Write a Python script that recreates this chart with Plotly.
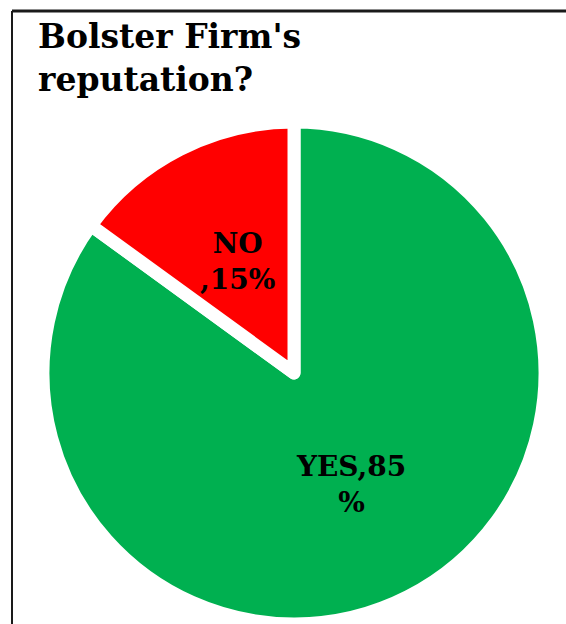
import math
import plotly.graph_objects as go

# ---- data ----
labels = ["YES", "NO"]
values = [85, 15]
slice_text = ["YES,85<br>%", "NO<br>,15%"]
colors = ["#00B050", "#FF0000"]
title_text = "Bolster Firm's<br>reputation?"

W, H = 566, 624
dom_x = [0.0751, 0.9638]
dom_y = [0.0, 0.8045]
FONT = "DejaVu Serif"
GAP = 13

fig = go.Figure(go.Pie(
    labels=labels, values=values, sort=False, direction="clockwise", rotation=0,
    marker=dict(colors=colors, line=dict(width=GAP, color="white")),
    textinfo="none", hoverinfo="label+percent",
    domain=dict(x=dom_x, y=dom_y), showlegend=False,
))

# pie geometry as plotly computes it (used to place the slice labels)
box_w = W * (dom_x[1] - dom_x[0])
box_h = H * (dom_y[1] - dom_y[0])
r = min(box_w, box_h) / 2
cx = W * (dom_x[0] + dom_x[1]) / 2
cy = H * (1 - dom_y[0]) - box_h / 2

total = sum(values)
cum = 0
label_frac = 0.5
for v, txt in zip(values, slice_text):
    mid = 2 * math.pi * (cum + v / 2) / total
    cum += v
    dx, dy = math.sin(mid), -math.cos(mid)
    px = cx + label_frac * r * dx
    py = cy + label_frac * r * dy
    fig.add_annotation(
        x=px / W, y=1 - py / H, xref="paper", yref="paper",
        text="<b>" + txt + "</b>", showarrow=False, align="center",
        xanchor="center", yanchor="middle",
        font=dict(family=FONT, size=28, color="#000000"),
    )

fig.add_annotation(
    x=36 / W, y=1 - 15 / H, xref="paper", yref="paper",
    text="<b>" + title_text + "</b>", showarrow=False, align="left",
    xanchor="left", yanchor="top",
    font=dict(family=FONT, size=33, color="#000000"),
)

# frame (left and top edges)
fig.add_shape(type="line", xref="paper", yref="paper",
              x0=12 / W, x1=1.01, y0=1 - 11 / H, y1=1 - 11 / H,
              line=dict(color="#1a1a1a", width=3))
fig.add_shape(type="line", xref="paper", yref="paper",
              x0=12 / W, x1=12 / W, y0=1 - 11 / H, y1=-0.01,
              line=dict(color="#1a1a1a", width=2))

fig.update_layout(
    width=W, height=H, margin=dict(l=0, r=0, t=0, b=0),
    paper_bgcolor="white", plot_bgcolor="white",
)

fig.write_html("out.html")
